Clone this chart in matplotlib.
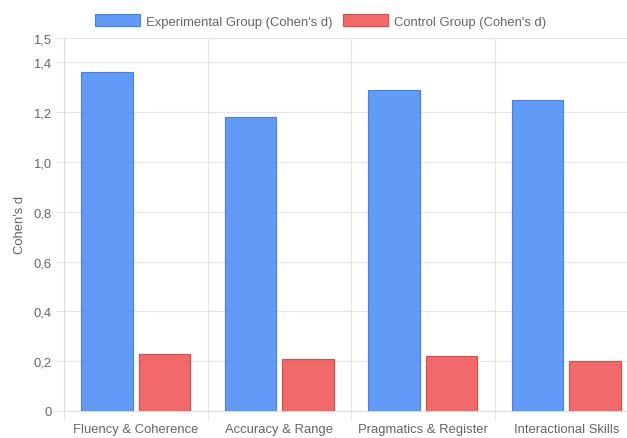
import numpy as np
import matplotlib
matplotlib.use("Agg")
import matplotlib.pyplot as plt

plt.rcParams.update({
    "font.family": ["Liberation Sans", "DejaVu Sans"],
    "font.size": 9.4,
})

categories = ["Fluency & Coherence", "Accuracy & Range", "Pragmatics & Register", "Interactional Skills"]
experimental = [1.36, 1.18, 1.29, 1.25]
control = [0.23, 0.21, 0.22, 0.20]
yticks = [0, 0.2, 0.4, 0.6, 0.8, 1.0, 1.2, 1.4, 1.5]

W, H = 627, 439
fig = plt.figure(figsize=(W / 100, H / 100), dpi=100)
# plot area in pixels: left 64, right 638 (runs past the canvas), top 38.5, bottom 412
ax = fig.add_axes([64 / W, (H - 412) / H, (638 - 64) / W, (412 - 38.5) / H])

GRID = "#e5e5e5"
TXT = "#666666"
FS = 9.4
x = np.arange(len(categories))
slot = 0.8 / 2
bw = slot * 0.9
ax.bar(x - slot / 2, experimental, bw, color=(59/255, 130/255, 246/255, 0.8),
       edgecolor="#3b82f6", linewidth=0.8, label="Experimental Group (Cohen's d)", zorder=3)
ax.bar(x + slot / 2, control, bw, color=(239/255, 68/255, 68/255, 0.8),
       edgecolor="#ef4444", linewidth=0.8, label="Control Group (Cohen's d)", zorder=3)

ax.set_xlim(-0.5, len(categories) - 0.5)
ax.set_ylim(0, 1.5)
ax.set_yticks(yticks)
ax.set_yticklabels(["0" if v == 0 else f"{v:.1f}".replace(".", ",") for v in yticks])
ax.set_xticks(x)
ax.set_xticklabels(categories)
ax.set_xticks(np.arange(len(categories) + 1) - 0.5, minor=True)
ax.grid(axis="y", color=GRID, linewidth=0.8, zorder=0)
ax.grid(axis="x", which="minor", color=GRID, linewidth=0.8, zorder=0)
ax.tick_params(axis="x", which="major", length=0, pad=8.3, colors=TXT, labelsize=FS)
ax.tick_params(axis="x", which="minor", length=6.5, color=GRID, width=0.8)
ax.tick_params(axis="y", length=6, color=GRID, width=0.8, pad=3, colors=TXT, labelsize=FS)
for s in ["top", "right"]:
    ax.spines[s].set_visible(False)
for s in ["left", "bottom"]:
    ax.spines[s].set_color("#dcdcdc")
    ax.spines[s].set_linewidth(0.8)
ax.set_ylabel("Cohen's d", color=TXT, fontsize=FS, labelpad=5.5)

fig.legend(loc="center", bbox_to_anchor=(320.5 / W, 1 - 22 / H), ncol=2,
           frameon=False, fontsize=FS, labelcolor=TXT, handlelength=3.45,
           handleheight=1.0, handletextpad=0.46, columnspacing=0.85,
           borderpad=0, borderaxespad=0)

fig.savefig("out.png", dpi=100)
